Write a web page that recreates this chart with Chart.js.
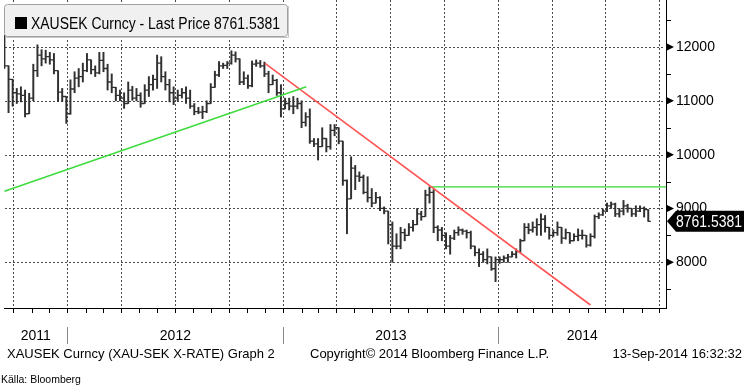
<!DOCTYPE html>
<html>
<head>
<meta charset="utf-8">
<script src="https://cdn.jsdelivr.net/npm/chart.js@4.4.1/dist/chart.umd.min.js"></script>
<style>
  html, body { margin: 0; padding: 0; background: #fff; }
  #wrap { width: 747px; height: 391px; }
</style>
</head>
<body>
<div id="wrap"><canvas id="chart" width="747" height="391"></canvas></div>
<script>
// XAUSEK weekly OHLC bars, first bar = week ending Fri 16 Sep 2011, last = 12 Sep 2014
const firstWeek = '2011-09-16';

const opens = [
  12150,11650,11400,11150,11130,11100,10760,11050,11560,11850,
  11780,11820,11760,11560,11160,11080,10760,11220,11420,11450,
  11560,11760,11580,11520,11750,11600,11350,11250,11100,11050,
  10950,11200,11050,11100,10950,11200,11300,11400,11700,11450,
  11300,11150,11050,11100,11150,11050,10900,10800,10790,10800,
  10950,11250,11480,11650,11660,11700,11850,11780,11350,11420,
  11280,11680,11700,11650,11500,11300,11380,11150,10850,10950,
  10900,10900,10950,10600,10700,10250,10200,10150,10300,10150,
  10450,10500,10250,9520,9180,9750,9600,9580,9300,9200,
  9100,9200,9000,8950,8700,8300,8300,8550,8500,8650,
  8700,8900,8850,9250,9300,8650,8600,8500,8300,8450,
  8550,8600,8580,8550,8300,8180,8150,8050,8100,7880,
  8050,8050,8080,8100,8150,8200,8400,8650,8600,8650,
  8700,8800,8650,8500,8550,8650,8450,8550,8400,8480,
  8500,8500,8320,8480,8850,8880,8950,9050,9080,8900,
  8950,9050,9000,8900,8950,9000,8980
];
const highs = [
  12220,11540,11250,11230,11260,11200,11140,11680,12040,11950,
  11940,11900,11880,11560,11230,11080,11390,11540,11600,11700,
  11880,11760,11650,11900,11900,11680,11500,11250,11200,11150,
  11350,11270,11230,11150,11300,11450,11480,11850,11820,11540,
  11400,11260,11200,11230,11260,11200,10950,10880,10900,11000,
  11320,11550,11730,11700,11730,11930,11910,11780,11540,11480,
  11740,11760,11750,11720,11550,11480,11400,11300,11050,11050,
  11080,11050,11000,10780,10850,10300,10300,10500,10300,10560,
  10560,10500,10230,9530,9960,9800,9680,9620,9590,9370,
  9300,9220,9030,8950,8750,8530,8650,8620,8720,8780,
  9000,8950,9340,9400,9350,8680,8650,8550,8500,8600,
  8660,8620,8600,8580,8250,8250,8200,8250,8100,8100,
  8100,8120,8150,8200,8250,8430,8720,8720,8750,8810,
  8900,8870,8620,8600,8750,8650,8620,8550,8530,8620,
  8600,8500,8530,8880,8920,8990,9100,9120,9100,9000,
  9150,9080,9000,9050,9050,9030,8980
];
const lows = [
  11600,10780,10900,10950,10980,10700,10760,11000,11450,11650,
  11700,11680,11500,10990,10990,10580,10750,11150,11260,11350,
  11540,11500,11450,11500,11540,11200,11150,11000,11000,10860,
  10960,11010,11000,10880,10950,11080,11200,11230,11350,11200,
  10980,10930,11000,11050,10950,10860,10740,10760,10670,10780,
  10950,11250,11450,11600,11600,11680,11720,11300,11300,11230,
  11260,11640,11620,11450,11150,11300,11100,10700,10850,10830,
  10760,10850,10500,10530,10210,10150,9900,10150,10050,10100,
  10350,10200,9430,8530,9180,9350,9500,9270,9120,9030,
  9100,8960,8900,8340,8000,8250,8250,8400,8500,8580,
  8700,8780,8870,9100,8550,8400,8400,8250,8150,8420,
  8500,8520,8450,8250,8120,7920,8000,7970,7850,7640,
  7980,8000,8000,8100,8080,8180,8400,8530,8560,8500,
  8500,8560,8430,8480,8500,8350,8430,8350,8400,8400,
  8430,8280,8300,8450,8810,8870,8940,9000,8850,8840,
  8880,8930,8850,8850,8940,8840,8760
];
const closes = [
  11650,11400,11150,11130,11100,10760,11050,11560,11850,11780,
  11820,11760,11560,11160,11080,10760,11220,11420,11450,11560,
  11760,11580,11520,11750,11600,11350,11250,11100,11050,10950,
  11200,11050,11100,10950,11200,11300,11400,11700,11450,11300,
  11150,11050,11100,11150,11050,10900,10800,10790,10800,10950,
  11250,11480,11650,11660,11700,11850,11780,11350,11420,11280,
  11680,11700,11650,11500,11300,11380,11150,10850,10950,10900,
  10900,10950,10600,10700,10250,10200,10150,10300,10150,10450,
  10500,10250,9520,9180,9750,9600,9580,9300,9200,9100,
  9200,9000,8950,8700,8300,8300,8550,8500,8650,8700,
  8900,8850,9250,9300,8650,8600,8500,8300,8450,8550,
  8600,8580,8550,8300,8180,8150,8050,8100,7880,8050,
  8050,8080,8100,8150,8200,8400,8650,8600,8650,8700,
  8800,8650,8500,8550,8650,8450,8550,8400,8480,8500,
  8500,8320,8480,8850,8880,8950,9050,9080,8900,8950,
  9050,9000,8900,8950,9000,8980,8762
];

const lastPrice = '8761.5381';
const yTicks = [8000, 9000, 10000, 11000, 12000];
const yMinorTicks = [7500, 8500, 9500, 10500, 11500, 12500];
const years = ['2011', '2012', '2013', '2014'];

// hand drawn lines on the Bloomberg chart: [date, price]
const supportLine = [['2011-09-16', 9320], ['2013-02-09', 11260]];
const downTrend = [['2012-12-01', 11697], ['2014-06-06', 7207]];
const resistance = [['2013-09-07', 9400], ['2014-10-20', 9400]];

// x values are days since 1 Jan 2012
const DAY = 864e5;
const base = Date.UTC(2012, 0, 1);
const dayOf = s => (Date.parse(s + 'T00:00:00Z') - base) / DAY;
const dayYMD = (y, m, d) => (Date.UTC(y, m - 1, d) - base) / DAY;
const weekDays = closes.map((_, i) => dayOf(firstWeek) + 7 * i);

const xMin = -107.7, xMax = 1015.1;
const yMin = 7151, yMax = 12873;

const quarterDays = [];
const monthDays = [];
for (let y = 2011; y <= 2014; y++) {
  for (let m = 1; m <= 12; m++) {
    const d = dayYMD(y, m, 1);
    if (d < xMin || d > xMax) continue;
    monthDays.push(d);
    if ((m - 1) % 3 === 0) quarterDays.push(d);
  }
}

const FONT = "'Liberation Sans', Arial, sans-serif";
const barColor = '#303030';
const gridColor = '#4a4a4a';

const toXY = pts => pts.map(p => ({ x: dayOf(p[0]), y: p[1] }));

// Bloomberg uses a narrow face; squeeze regular text to the measured width
function narrowText(ctx, text, x, y, width) {
  const w = ctx.measureText(text).width;
  ctx.save();
  ctx.translate(x, y);
  ctx.scale(Math.min(1, width / w), 1);
  ctx.textAlign = 'left';
  ctx.fillText(text, 0, 0);
  ctx.restore();
}

const decor = {
  id: 'decor',
  beforeDatasetsDraw(chart) {
    // dotted grid at quarter starts and every 1000 SEK
    const { ctx, scales: { x, y }, chartArea: a } = chart;
    ctx.save();
    ctx.fillStyle = gridColor;
    yTicks.forEach(v => {
      const py = Math.round(y.getPixelForValue(v));
      for (let px = a.left + 1; px < a.right - 1; px += 4) ctx.fillRect(px, py, 2, 1);
    });
    quarterDays.forEach(v => {
      const px = Math.round(x.getPixelForValue(v));
      for (let py = a.top; py < a.bottom - 1; py += 4) ctx.fillRect(px, py, 1, 2);
    });
    ctx.restore();
  },
  afterDatasetDraw(chart, args) {
    if (args.index !== 0) return;
    const { ctx, scales: { x, y }, chartArea: a } = chart;
    ctx.save();
    ctx.beginPath();
    ctx.rect(a.left, a.top, a.right - a.left, a.bottom - a.top);
    ctx.clip();
    ctx.strokeStyle = barColor;
    ctx.lineWidth = 1.3;
    ctx.beginPath();
    weekDays.forEach((d, i) => {
      const px = x.getPixelForValue(d);
      const yo = y.getPixelForValue(opens[i]);
      const yc = y.getPixelForValue(closes[i]);
      ctx.moveTo(px - 2.6, yo); ctx.lineTo(px, yo);
      ctx.moveTo(px, yc); ctx.lineTo(px + 2.6, yc);
    });
    ctx.stroke();
    ctx.restore();
  },
  afterDraw(chart) {
    const { ctx, scales: { x, y }, chartArea: a } = chart;
    ctx.save();

    // legend box
    ctx.fillStyle = '#f0f0f0';
    ctx.strokeStyle = '#a0a0a0';
    ctx.lineWidth = 1;
    ctx.beginPath();
    ctx.roundRect(4.5, 4.5, 283, 32, 3);
    ctx.fill();
    ctx.stroke();
    ctx.strokeStyle = '#c8c8c8';
    ctx.beginPath();
    ctx.moveTo(6, 37.5); ctx.lineTo(288.5, 37.5); ctx.lineTo(288.5, 6);
    ctx.stroke();
    ctx.fillStyle = '#000';
    ctx.fillRect(15, 17, 12, 12);
    ctx.font = '16px ' + FONT;
    ctx.textBaseline = 'alphabetic';
    narrowText(ctx, 'XAUSEK Curncy - Last Price ' + lastPrice, 31, 28.5, 249);

    // right axis markers
    ctx.fillStyle = '#000';
    yTicks.forEach(v => {
      const py = y.getPixelForValue(v);
      ctx.beginPath();
      ctx.moveTo(a.right + 1, py - 3.5);
      ctx.lineTo(a.right + 8, py);
      ctx.lineTo(a.right + 1, py + 3.5);
      ctx.closePath();
      ctx.fill();
    });
    ctx.strokeStyle = '#000';
    ctx.lineWidth = 1;
    ctx.beginPath();
    yMinorTicks.forEach(v => {
      const py = Math.round(y.getPixelForValue(v)) + 0.5;
      ctx.moveTo(a.right, py); ctx.lineTo(a.right + 5, py);
    });
    ctx.stroke();

    // last price tag
    const py = y.getPixelForValue(parseFloat(lastPrice));
    ctx.fillStyle = '#000';
    ctx.beginPath();
    ctx.moveTo(a.right + 1, py);
    ctx.lineTo(a.right + 10, py - 10.5);
    ctx.lineTo(744, py - 10.5);
    ctx.lineTo(744, py + 10.5);
    ctx.lineTo(a.right + 10, py + 10.5);
    ctx.closePath();
    ctx.fill();
    ctx.fillStyle = '#fff';
    ctx.font = '16px ' + FONT;
    narrowText(ctx, lastPrice, 676, py + 6, 66);

    // bottom axis: month ticks, year separators and labels
    ctx.strokeStyle = '#000';
    ctx.beginPath();
    monthDays.forEach(d => {
      const px = Math.round(x.getPixelForValue(d)) + 0.5;
      ctx.moveTo(px, a.bottom); ctx.lineTo(px, a.bottom + 5);
    });
    ctx.stroke();
    ctx.strokeStyle = '#8a8a8a';
    ctx.beginPath();
    [2012, 2013, 2014].forEach(yr => {
      const px = Math.round(x.getPixelForValue(dayYMD(yr, 1, 1))) + 0.5;
      ctx.moveTo(px, 327); ctx.lineTo(px, 344);
    });
    ctx.stroke();
    ctx.fillStyle = '#000';
    ctx.font = '14px ' + FONT;
    ctx.textAlign = 'center';
    ctx.textBaseline = 'middle';
    years.forEach(lbl => {
      const yr = +lbl;
      const l = Math.max(a.left, x.getPixelForValue(dayYMD(yr, 1, 1)));
      const r = Math.min(a.right, x.getPixelForValue(dayYMD(yr + 1, 1, 1)));
      ctx.fillText(lbl, (l + r) / 2, 336);
    });

    // footer
    ctx.font = '13px ' + FONT;
    ctx.textAlign = 'left';
    ctx.fillText('XAUSEK Curncy (XAU-SEK X-RATE) Graph 2', 7, 354);
    ctx.fillText('Copyright\u00a9 2014 Bloomberg Finance L.P.', 310, 354);
    ctx.textAlign = 'right';
    ctx.fillText('13-Sep-2014 16:32:32', 742, 354);
    ctx.textAlign = 'left';
    ctx.font = '10.5px ' + FONT;
    ctx.fillText('K\u00e4lla: Bloomberg', 1, 380);
    ctx.restore();
  }
};

new Chart(document.getElementById('chart'), {
  type: 'bar',
  data: {
    datasets: [
      {
        type: 'bar',
        data: weekDays.map((d, i) => ({
          x: d,
          y: [Math.min(lows[i], opens[i], closes[i]), Math.max(highs[i], opens[i], closes[i])]
        })),
        backgroundColor: barColor,
        barThickness: 1.3,
        order: 2
      },
      {
        type: 'line',
        data: toXY(supportLine),
        borderColor: '#3fdc3f',
        borderWidth: 1.6,
        pointRadius: 0,
        order: 1
      },
      {
        type: 'line',
        data: toXY(downTrend),
        borderColor: '#ff5555',
        borderWidth: 1.6,
        pointRadius: 0,
        order: 1
      },
      {
        type: 'line',
        data: toXY(resistance),
        borderColor: '#2fd82f',
        borderWidth: 1.2,
        pointRadius: 0,
        order: 1
      }
    ]
  },
  options: {
    responsive: false,
    animation: false,
    events: [],
    layout: { padding: { left: 4, top: 0, right: 0, bottom: 0 }, autoPadding: false },
    plugins: { legend: { display: false }, tooltip: { enabled: false } },
    scales: {
      x: {
        type: 'linear',
        min: xMin,
        max: xMax,
        offset: false,
        afterBuildTicks: s => { s.ticks = quarterDays.map(v => ({ value: v })); },
        afterFit: s => { s.height = 83; },
        ticks: { display: false },
        grid: { display: false },
        border: { display: true, color: '#000', width: 1 }
      },
      y: {
        type: 'linear',
        position: 'right',
        min: yMin,
        max: yMax,
        afterBuildTicks: s => { s.ticks = yTicks.map(v => ({ value: v })); },
        afterFit: s => { s.width = 81; s.paddingTop = 0; s.paddingBottom = 0; },
        ticks: {
          color: '#000',
          padding: 10,
          font: { family: FONT, size: 14 },
          callback: v => String(v)
        },
        grid: { display: false, drawTicks: false },
        border: { display: true, color: '#000', width: 1 }
      }
    }
  },
  plugins: [decor]
});
</script>
</body>
</html>
